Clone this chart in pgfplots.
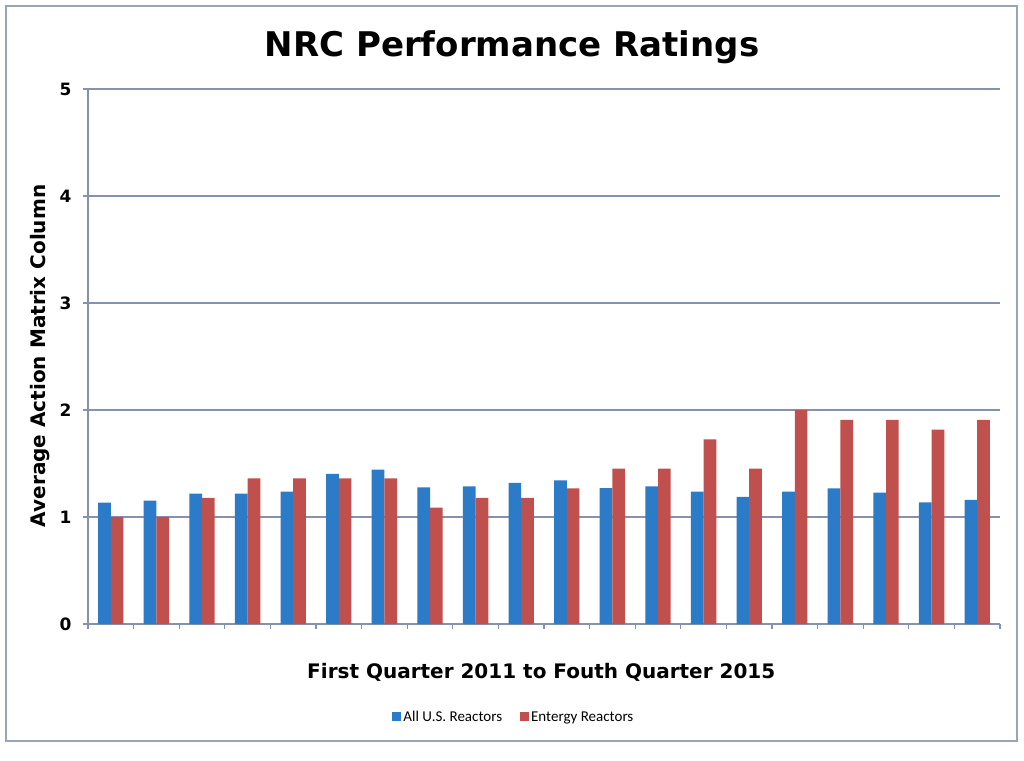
\documentclass[border=0pt]{standalone}
\usepackage{fontspec}
\setmainfont{Carlito}
\newfontfamily\heavy{DejaVu Sans}
\usepackage{pgfplots}
\pgfplotsset{compat=1.18}
\definecolor{usblue}{HTML}{2B7BC8}
\definecolor{entred}{HTML}{C0504D}
\definecolor{gridc}{HTML}{8592AD}
\definecolor{framec}{HTML}{9AA3B8}

\begin{document}
\begin{tikzpicture}[x=1pt,y=1pt]
\path[use as bounding box] (0,0) rectangle (1024,760);
\draw[framec, line width=1.5pt] (6,19) rectangle (1017,754);

\begin{axis}[
  at={(88pt,136pt)}, anchor=south west,
  scale only axis,
  width=912pt, height=535pt,
  ybar=0pt, bar width=0.278,
  xmin=0.5, xmax=20.5,
  ymin=0, ymax=5,
  axis lines*=left,
  axis line style={gridc, line width=1.3pt},
  xtick={0.5,1.5,...,20.5}, xticklabels={},
  ytick={0,1,2,3,4,5},
  tick align=outside,
  major tick length=5pt,
  tick style={gridc, line width=1.2pt},
  ymajorgrids,
  grid style={gridc, line width=1.3pt},
  yticklabel style={font=\heavy\bfseries\fontsize{17}{19}\selectfont, xshift=-8pt},
  /pgf/number format/assume math mode=true,
  title={NRC Performance Ratings},
  title style={font=\heavy\bfseries\fontsize{34}{38}\selectfont,
    at={(axis description cs:0.465,1.067)}, anchor=center},
  xlabel={First Quarter 2011 to Fouth Quarter 2015},
  xlabel style={font=\heavy\bfseries\fontsize{20}{23}\selectfont,
    at={(axis description cs:0.497,-0.09)}, anchor=center},
  ylabel={Average Action Matrix Column},
  ylabel style={font=\heavy\bfseries\fontsize{20}{23}\selectfont,
    at={(axis description cs:-0.0526,0.501)}, anchor=center, rotate=0},
  legend columns=2,
  legend style={draw=none, fill=none, font=\fontsize{15}{17}\selectfont,
    at={(axis description cs:0.467,-0.174)}, anchor=center,
    /tikz/every even column/.append style={column sep=16pt}},
  legend image code/.code={\fill[#1,draw=none] (0pt,-4pt) rectangle (9pt,5pt);},
]
\addplot[fill=usblue, draw=none] coordinates {
 (1,1.134) (2,1.153) (3,1.218) (4,1.218) (5,1.237)
 (6,1.402) (7,1.442) (8,1.277) (9,1.287) (10,1.318)
 (11,1.343) (12,1.271) (13,1.287) (14,1.237) (15,1.187)
 (16,1.237) (17,1.268) (18,1.227) (19,1.137) (20,1.159)
};
\addplot[fill=entred, draw=none] coordinates {
 (1,1.0) (2,1.0) (3,1.178) (4,1.361) (5,1.361)
 (6,1.361) (7,1.361) (8,1.087) (9,1.178) (10,1.178)
 (11,1.268) (12,1.452) (13,1.452) (14,1.726) (15,1.452)
 (16,2.0) (17,1.907) (18,1.907) (19,1.816) (20,1.907)
};
\legend{All U.S. Reactors, Entergy Reactors}
\end{axis}
\end{tikzpicture}
\end{document}
